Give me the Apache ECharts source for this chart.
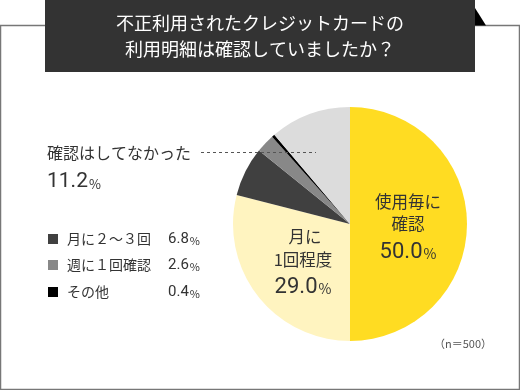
<!DOCTYPE html>
<html><head><meta charset="utf-8">
<script src="https://cdn.jsdelivr.net/npm/echarts@6/dist/echarts.min.js"></script>
<style>html,body{margin:0;padding:0;background:#fff}#c{width:520px;height:390px}</style>
</head><body><div id="c"></div>
<script>
var titleLines = ['不正利用されたクレジットカードの', '利用明細は確認していましたか？'];
var categories = ['使用毎に確認', '月に1回程度', '月に２〜３回', '週に１回確認', 'その他', '確認はしてなかった'];
var values = [50.0, 29.0, 6.8, 2.6, 0.4, 11.2];
var colors = ['#FFDC22', '#FFF4C0', '#404040', '#888888', '#000000', '#DCDCDC'];
var legendIdx = [2, 3, 4];
var note = '（n＝500）';

var FONT = '"Noto Sans CJK JP", sans-serif';
var chart = echarts.init(document.getElementById('c'), null, {renderer: 'canvas'});

function valText(v, big, small, x, y, align) {
  return {
    type: 'text', x: x, y: y,
    style: {
      text: '{a|' + v.toFixed(1) + '}{b|%}',
      align: align, verticalAlign: 'middle',
      rich: {
        a: {fontFamily: 'Roboto, sans-serif', fontSize: big, fill: '#333', fontWeight: 'normal'},
        b: {fontFamily: FONT, fontSize: small, fill: '#333', padding: [big*0.18, 0, 0, 1]}
      }
    }, z: 20
  };
}
function txt(s, x, y, size, align, color) {
  return {type: 'text', x: x, y: y, style: {text: s, fill: color || '#333', font: size + 'px ' + FONT, align: align, verticalAlign: 'middle'}, z: 20};
}

var graphics = [
  {type: 'rect', shape: {x: 0.5, y: 25.5, width: 519, height: 364}, style: {fill: 'none', stroke: '#777', lineWidth: 1.5}, z: 1},
  {type: 'polygon', shape: {points: [[470, 0], [486, 25.5], [470, 25.5]]}, style: {fill: '#000'}, z: 2},
  {type: 'rect', shape: {x: 45, y: 0, width: 430, height: 72}, style: {fill: '#333'}, z: 3},
  txt(titleLines[0], 260, 23, 18, 'center', '#fff'),
  txt(titleLines[1], 260, 49, 18, 'center', '#fff'),
  {type: 'line', shape: {x1: 201, y1: 152.5, x2: 316, y2: 152.5}, style: {stroke: '#555', lineWidth: 1, lineDash: [3, 3]}, z: 20},
  txt(categories[5], 47, 153, 16, 'left'),
  valText(values[5], 21, 13, 47, 182, 'left'),
  txt('使用毎に', 408, 202, 16.5, 'center'),
  txt('確認', 408, 224, 16.5, 'center'),
  valText(values[0], 22, 14, 408, 252, 'center'),
  txt('月に', 305, 237, 16.5, 'center'),
  txt('1回程度', 303, 260, 16.5, 'center'),
  valText(values[1], 22, 14, 303, 287, 'center'),
  txt(note, 463, 344, 11, 'center', '#555')
];

var rowsY = [239, 265, 292];
legendIdx.forEach(function (i, k) {
  var y = rowsY[k];
  graphics.push({type: 'rect', shape: {x: 48, y: y - 5, width: 10, height: 10}, style: {fill: colors[i]}, z: 20});
  graphics.push(txt(categories[i], 67, y, 14, 'left'));
  graphics.push({
    type: 'text', x: 168, y: y,
    style: {text: '{a|' + values[i].toFixed(1) + '}{b|%}', align: 'left', verticalAlign: 'middle',
      rich: {a: {fontFamily: 'Roboto, sans-serif', fontSize: 15, fill: '#333'}, b: {fontFamily: FONT, fontSize: 11, fill: '#333', padding: [3, 0, 0, 1]}}},
    z: 20
  });
});

chart.setOption({
  animation: false,
  backgroundColor: '#fff',
  graphic: graphics,
  series: [{
    type: 'pie',
    center: [350, 224],
    radius: [0, 117],
    startAngle: 90,
    clockwise: true,
    label: {show: false},
    labelLine: {show: false},
    emphasis: {disabled: true},
    itemStyle: {borderWidth: 0},
    z: 10,
    data: categories.map(function (c, i) { return {name: c, value: values[i], itemStyle: {color: colors[i]}}; })
  }]
});
</script></body></html>
